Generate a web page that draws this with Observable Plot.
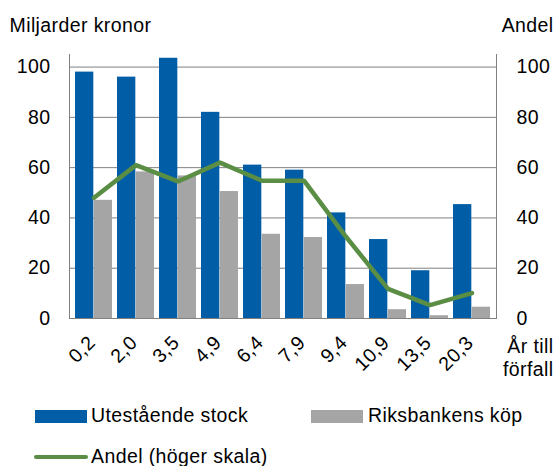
<!DOCTYPE html>
<html>
<head>
<meta charset="utf-8">
<script src="https://cdn.jsdelivr.net/npm/d3@7"></script>
<script src="https://cdn.jsdelivr.net/npm/@observablehq/plot@0.6"></script>
<style>
  html, body { margin: 0; padding: 0; background: #fff; }
  #wrap { position: relative; width: 555px; height: 466px; overflow: hidden;
          font-family: "Liberation Sans", Arial, sans-serif; font-size: 19.5px; letter-spacing: 0.4px; color: #000; }
  #wrap svg text { letter-spacing: 0.4px; }
  .sw { position: absolute; }
  .lt { position: absolute; line-height: 20px; white-space: nowrap; }
</style>
</head>
<body>
<div id="wrap"></div>
<script>
// ---- data ----
const categories = ["0,2", "2,0", "3,5", "4,9", "6,4", "7,9", "9,4", "10,9", "13,5", "20,3"];
const stock = [98, 96, 103.5, 82, 61, 59, 42, 31.4, 19, 45.3];   // Utestående stock (mdr kr)
const kop   = [47, 58.3, 56.7, 50.5, 33.5, 32.2, 13.5, 3.5, 1.1, 4.5]; // Riksbankens köp (mdr kr)
const andel = [48, 61, 54.5, 62, 54.8, 54.8, 32.5, 11.8, 5.3, 10.1];  // Andel (höger skala)
const yTicks = [0, 20, 40, 60, 80, 100];
const seriesNames = ["Utestående stock", "Riksbankens köp", "Andel (höger skala)"];
const leftTitle = "Miljarder kronor";
const rightTitle = "Andel";
const xTitle = "År till\nförfall";

const blue = "#005DA6", grey = "#A5A5A5", green = "#5B8E45", axisCol = "#808080";

const data = categories.map((c, i) => ({cat: c, stock: stock[i], kop: kop[i], andel: andel[i]}));

const W = 555, H = 395, mL = 69, mR = 59, mT = 54, mB = 77;
const padIn = 0.125, padOut = 0.0625;
const step = (W - mL - mR) / (categories.length - padIn + 2 * padOut);
const half = step * (1 - padIn) / 2;

const fs = 19.5;

const chart = Plot.plot({
  width: W, height: H,
  marginLeft: mL, marginRight: mR, marginTop: mT, marginBottom: mB,
  style: {fontFamily: "Liberation Sans, Arial, sans-serif", fontSize: fs + "px", color: "#000", background: "#fff", overflow: "visible"},
  x: {type: "band", domain: categories, paddingInner: padIn, paddingOuter: padOut},
  y: {domain: [0, 105]},
  marks: [
    Plot.ruleY(yTicks.slice(1), {stroke: axisCol, strokeWidth: 1}),
    Plot.barY(data, {x: "cat", y: "stock", fill: blue, insetRight: half}),
    Plot.barY(data, {x: "cat", y: "kop", fill: grey, insetLeft: half}),
    Plot.frame({anchor: "left", stroke: axisCol}),
    Plot.frame({anchor: "right", stroke: axisCol}),
    Plot.ruleY([0], {stroke: axisCol, strokeWidth: 1.2}),
    Plot.lineY(data, {x: "cat", y: "andel", stroke: green, strokeWidth: 4.5, strokeLinejoin: "miter"}),
    Plot.axisY(yTicks, {anchor: "left", tickSize: 0, tickPadding: 19, label: null, fontSize: fs}),
    Plot.axisY(yTicks, {anchor: "right", tickSize: 0, tickPadding: 20, label: null, fontSize: fs}),
    Plot.axisX({tickSize: 0, tickRotate: -45, tickPadding: 21, dx: -2, label: null, fontSize: fs}),
    Plot.text([leftTitle], {frameAnchor: "top-left", dx: 9 - mL, dy: 31 - mT, textAnchor: "start", lineAnchor: "bottom", fontSize: fs, fill: "#000"}),
    Plot.text([rightTitle], {frameAnchor: "top-right", dx: 553 - (W - mR), dy: 31 - mT, textAnchor: "end", lineAnchor: "bottom", fontSize: fs, fill: "#000"}),
    Plot.text([xTitle], {frameAnchor: "bottom-right", dx: 553 - (W - mR), dy: 375 - (H - mB), textAnchor: "end", lineAnchor: "bottom", lineHeight: 1.18, fontSize: fs, fill: "#000"})
  ]
});

const wrap = document.getElementById("wrap");
wrap.appendChild(chart);

// ---- legend (HTML, below the svg) ----
function add(el, css, text) {
  const d = document.createElement("div");
  d.className = el;
  Object.assign(d.style, css);
  if (text) d.textContent = text;
  wrap.appendChild(d);
}
add("sw", {left: "35px", top: "410px", width: "52px", height: "12.5px", background: blue});
add("lt", {left: "91px", top: "405px"}, seriesNames[0]);
add("sw", {left: "311px", top: "410px", width: "52px", height: "12.5px", background: grey});
add("lt", {left: "368px", top: "405px"}, seriesNames[1]);
add("sw", {left: "34px", top: "454.5px", width: "54px", height: "4.5px", background: green, borderRadius: "2.5px"});
add("lt", {left: "91px", top: "446px"}, seriesNames[2]);
</script>
</body>
</html>
